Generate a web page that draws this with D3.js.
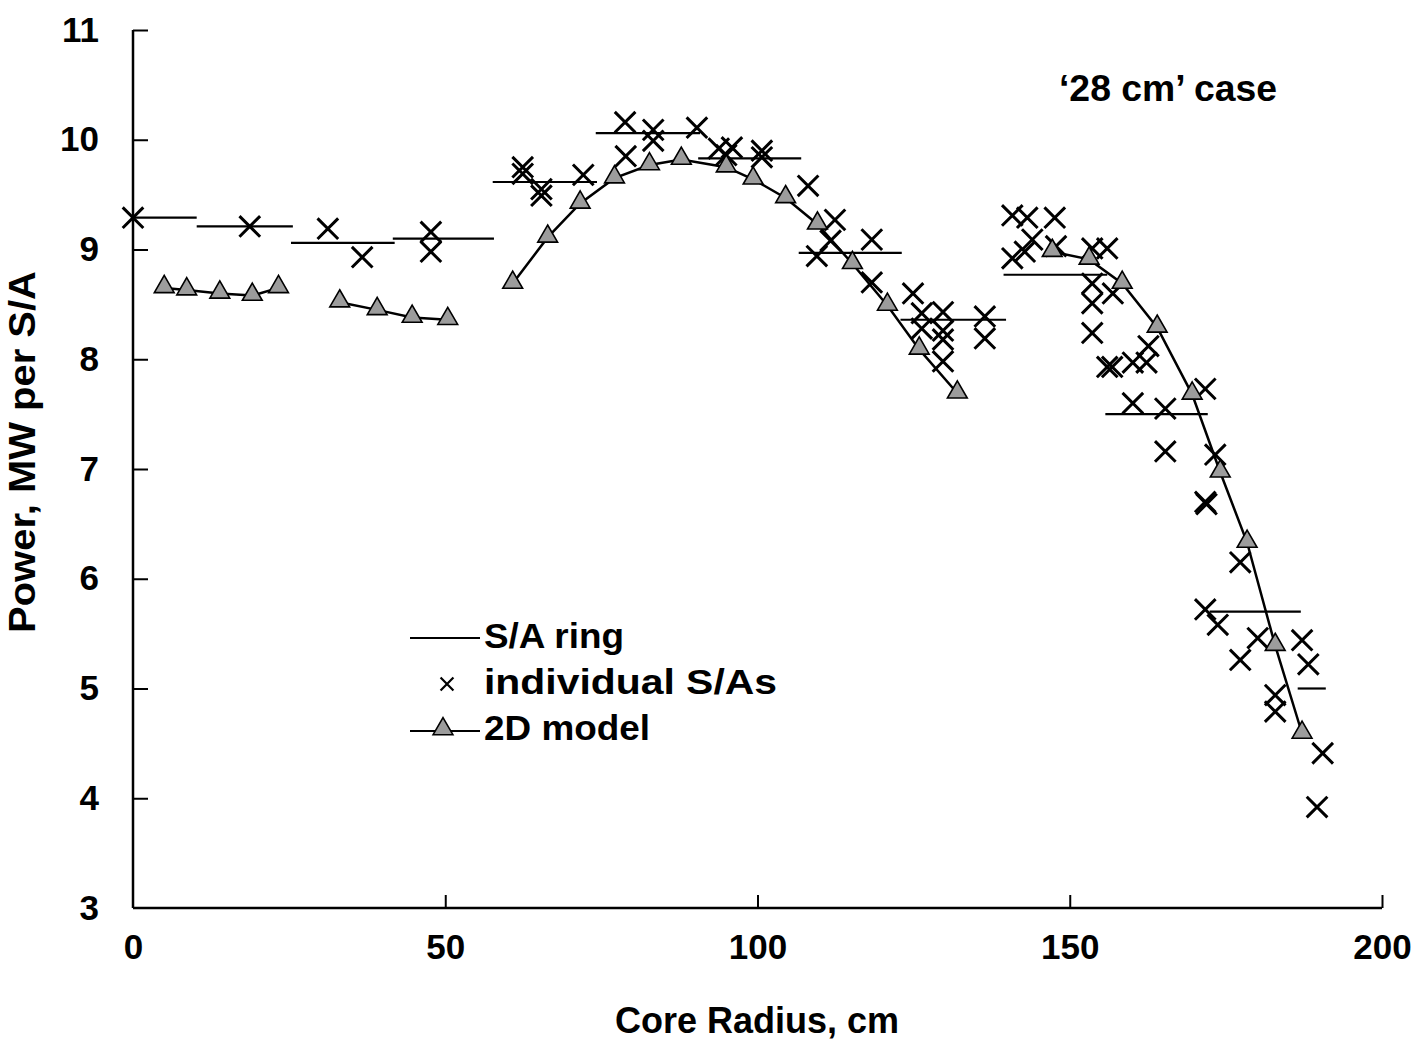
<!DOCTYPE html>
<html><head><meta charset="utf-8">
<script src="https://cdn.jsdelivr.net/npm/d3@7"></script>
<style>
html,body{margin:0;padding:0;background:#fff;}
text{font-family:"Liberation Sans",Arial,Helvetica,sans-serif;font-weight:bold;fill:#000;}
</style></head>
<body><svg id="c" width="1415" height="1043"></svg>
<script>
// ---------- data ----------
const xTicks = [0, 50, 100, 150, 200];
const yTicks = [3, 4, 5, 6, 7, 8, 9, 10, 11];

// S/A ring averages: start radius, end radius, value
const ringX0  = [0, 10.2, 25.3, 41.6, 57.6, 74.1, 90.5, 106.6, 122.9, 139.4, 155.7, 172.4, 186.5];
const ringX1  = [10.2, 25.6, 41.9, 57.8, 74.3, 90.8, 107.0, 123.1, 139.8, 156.0, 172.1, 187.0, 191.0];
const ringVal = [9.29, 9.21, 9.06, 9.10, 9.615, 10.06, 9.83, 8.97, 8.36, 8.77, 7.50, 5.70, 5.00];

// individual S/As
const indX = [0, 18.7, 31.2, 36.7, 47.7, 47.7, 62.4, 62.4, 65.4, 65.4, 72.1, 78.8, 78.9, 83.3, 83.3, 90.3,
  93.8, 95.9, 95.0, 100.7, 100.7, 108.1, 112.4, 111.7, 109.5, 118.3, 118.3, 124.9, 126.3, 126.3, 129.7, 129.7,
  129.7, 129.7, 136.4, 136.4, 140.8, 143.2, 147.6, 144.0, 142.8, 140.8, 147.8, 153.6, 156.0, 153.6, 156.9,
  153.6, 153.6, 156.0, 156.8, 160.1, 162.3, 162.6, 160.1, 165.3, 165.3, 171.7, 173.3, 171.7, 171.9, 177.3,
  171.7, 173.7, 180.1, 177.3, 187.2, 188.2, 182.9, 182.9, 190.5, 189.6];
const indY = [9.29, 9.21, 9.19, 8.93, 9.16, 8.98, 9.75, 9.69, 9.55, 9.49, 9.68, 10.16, 9.85, 10.09, 9.99, 10.11,
  9.92, 9.93, 9.86, 9.90, 9.84, 9.58, 9.27, 9.08, 8.94, 9.09, 8.70, 8.60, 8.42, 8.28, 8.43, 8.26,
  8.18, 7.98, 8.39, 8.19, 9.31, 9.29, 9.29, 9.09, 8.98, 8.92, 9.03, 9.01, 9.01, 8.69, 8.60,
  8.51, 8.24, 7.93, 7.93, 7.97, 7.97, 8.12, 7.60, 7.55, 7.16, 7.73, 7.13, 6.70, 6.68, 6.15,
  5.72, 5.58, 5.46, 5.26, 5.44, 5.22, 4.94, 4.79, 4.41, 3.92];

// 2D model (segment id, radius, value)
const modelSeg = [0,0,0,0,0, 1,1,1,1, 2,2,2,2,2,2,2,2,2,2,2,2,2,2, 3,3,3,3,3,3,3,3,3];
const modelX = [5.0, 8.6, 13.9, 19.1, 23.3,
  33.1, 39.1, 44.7, 50.4,
  60.8, 66.4, 71.6, 77.1, 82.7, 87.8, 95.0, 99.3, 104.5, 109.6, 115.2, 120.8, 125.9, 132.0,
  147.2, 153.1, 158.4, 164.0, 169.6, 174.1, 178.4, 182.9, 187.2];
const modelY = [8.65, 8.63, 8.60, 8.58, 8.65,
  8.52, 8.45, 8.38, 8.36,
  8.69, 9.11, 9.42, 9.65, 9.77, 9.82, 9.75, 9.64, 9.47, 9.23, 8.87, 8.49, 8.09, 7.69,
  8.98, 8.91, 8.69, 8.29, 7.68, 6.97, 6.33, 5.39, 4.59];

const legendLabels = ["S/A ring", "individual S/As", "2D model"];
const legendWidths = [140, 293, 166];
const caseLabel = "\u201828 cm\u2019 case";

// ---------- drawing ----------
const svg = d3.select("#c");
const x = d3.scaleLinear().domain([0, 200]).range([133, 1382]);
const y = d3.scaleLinear().domain([3, 11]).range([908, 30]);

// axes
const gx = svg.append("g").attr("transform", `translate(0,${y(3)})`)
  .call(d3.axisBottom(x).tickValues(xTicks).tickSize(-13).tickPadding(26).tickFormat(d3.format("d")));
const gy = svg.append("g").attr("transform", `translate(${x(0)},0)`)
  .call(d3.axisLeft(y).tickValues(yTicks).tickSize(-15).tickPadding(34).tickFormat(d3.format("d")));
[gx, gy].forEach(g => {
  g.select(".domain").attr("stroke", "#000").attr("stroke-width", 2.5);
  g.selectAll(".tick line").attr("stroke", "#000").attr("stroke-width", 2);
  g.selectAll(".tick text").style("font-size", "35px").attr("fill", "#000");
});
gx.select(".domain").attr("d", `M${x(0)},0H${x(200)}`);
gx.selectAll(".tick").filter(d => d === 0).select("line").remove();
gy.select(".domain").attr("d", `M0,${y(3)}V${y(11)}`);
gy.selectAll(".tick").filter(d => d === 3).select("line").remove();

// axis labels
svg.append("text").attr("x", 757).attr("y", 1033).attr("text-anchor", "middle")
  .style("font-size", "36px").text("Core Radius, cm");
svg.append("text").attr("transform", `translate(35,${452}) rotate(-90)`).attr("text-anchor", "middle")
  .attr("textLength", 362).attr("lengthAdjust", "spacingAndGlyphs")
  .style("font-size", "37px").text("Power, MW per S/A");
svg.append("text").attr("x", 1168).attr("y", 101).attr("text-anchor", "middle")
  .attr("textLength", 218).attr("lengthAdjust", "spacingAndGlyphs")
  .style("font-size", "36px").text(caseLabel);

// S/A ring lines
svg.append("g").selectAll("line").data(ringVal).join("line")
  .attr("x1", (d, i) => x(ringX0[i])).attr("x2", (d, i) => x(ringX1[i]))
  .attr("y1", d => y(d)).attr("y2", d => y(d))
  .attr("stroke", "#000").attr("stroke-width", 2.2);

// 2D model lines
const segs = d3.groups(modelX.map((v, i) => ({x: v, y: modelY[i], s: modelSeg[i]})), d => d.s);
const line = d3.line().x(d => x(d.x)).y(d => y(d.y));
svg.append("g").selectAll("path").data(segs).join("path")
  .attr("d", d => line(d[1])).attr("fill", "none").attr("stroke", "#000").attr("stroke-width", 2.5);

// individual crosses
const crossSym = d3.symbol().type(d3.symbolTimes || d3.symbolX).size(280);
svg.append("g").selectAll("path").data(indX).join("path")
  .attr("d", crossSym())
  .attr("transform", (d, i) => `translate(${x(d)},${y(indY[i])})`)
  .attr("fill", "none").attr("stroke", "#000").attr("stroke-width", 3);

// triangles
const triSym = d3.symbol().type(d3.symbolTriangle).size(170);
svg.append("g").selectAll("path").data(modelX).join("path")
  .attr("d", triSym())
  .attr("transform", (d, i) => `translate(${x(d)},${y(modelY[i]) - 1})`)
  .attr("fill", "#9c9c9c").attr("stroke", "#000").attr("stroke-width", 1.6);

// legend
const lg = svg.append("g");
lg.append("line").attr("x1", 410).attr("x2", 480).attr("y1", 638).attr("y2", 638)
  .attr("stroke", "#000").attr("stroke-width", 2);
lg.append("path").attr("d", d3.symbol().type(d3.symbolTimes || d3.symbolX).size(110)())
  .attr("transform", "translate(447,684)").attr("fill", "none").attr("stroke", "#000").attr("stroke-width", 2.2);
lg.append("line").attr("x1", 410).attr("x2", 480).attr("y1", 731).attr("y2", 731)
  .attr("stroke", "#000").attr("stroke-width", 2);
lg.append("path").attr("d", triSym()).attr("transform", "translate(443,729)")
  .attr("fill", "#9c9c9c").attr("stroke", "#000").attr("stroke-width", 1.6);
lg.selectAll("text").data(legendLabels).join("text")
  .attr("x", 484).attr("y", (d, i) => 648 + i * 46)
  .attr("textLength", (d, i) => legendWidths[i]).attr("lengthAdjust", "spacingAndGlyphs")
  .style("font-size", "35px").text(d => d);
</script></body></html>
